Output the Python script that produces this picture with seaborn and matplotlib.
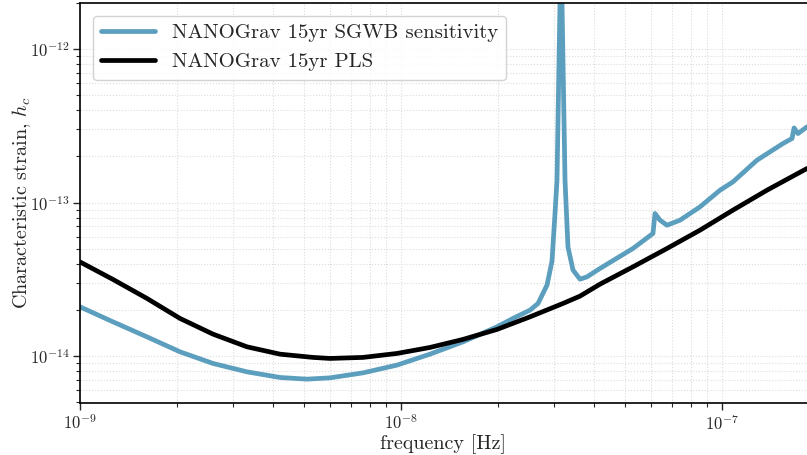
import numpy as np
import pandas as pd
import matplotlib
matplotlib.use("Agg")
import matplotlib.pyplot as plt
import seaborn as sns

# Data
pls_freq = [1.00e-9, 1.267e-9, 1.617e-9, 2.049e-9, 2.596e-9, 3.313e-9, 4.199e-9, 5.318e-9,
            6.009e-9, 7.613e-9, 9.716e-9, 1.231e-8, 1.560e-8, 1.991e-8, 2.523e-8, 3.196e-8,
            3.611e-8, 4.168e-8, 5.281e-8, 6.741e-8, 8.541e-8, 1.082e-7, 1.381e-7, 1.840e-7]
pls_hc = [4.11e-14, 3.16e-14, 2.376e-14, 1.761e-14, 1.391e-14, 1.150e-14, 1.030e-14, 9.81e-15,
          9.66e-15, 9.81e-15, 1.041e-14, 1.139e-14, 1.285e-14, 1.493e-14, 1.803e-14, 2.204e-14,
          2.460e-14, 2.944e-14, 3.818e-14, 5.03e-14, 6.62e-14, 8.94e-14, 1.206e-13, 1.670e-13]

sens_freq = [1.00e-9, 1.267e-9, 1.617e-9, 2.049e-9, 2.596e-9, 3.313e-9, 4.199e-9, 5.094e-9,
             6.009e-9, 7.613e-9, 9.716e-9, 1.231e-8, 1.560e-8, 1.991e-8, 2.233e-8, 2.523e-8,
             2.672e-8, 2.850e-8, 2.954e-8, 3.019e-8, 3.062e-8, 3.151e-8, 3.243e-8, 3.313e-8,
             3.435e-8, 3.611e-8, 3.797e-8, 4.168e-8, 5.281e-8, 6.095e-8, 6.183e-8, 6.41e-8,
             6.741e-8, 7.40e-8, 8.541e-8, 9.86e-8, 1.082e-7, 1.285e-7, 1.549e-7, 1.653e-7,
             1.677e-7, 1.725e-7, 1.840e-7]
sens_hc = [2.095e-14, 1.673e-14, 1.335e-14, 1.067e-14, 8.96e-15, 7.90e-15, 7.26e-15, 7.08e-15,
           7.22e-15, 7.78e-15, 8.74e-15, 1.030e-14, 1.239e-14, 1.552e-14, 1.761e-14, 1.994e-14,
           2.204e-14, 2.901e-14, 4.16e-14, 8.54e-14, 1.401e-13, 5.0e-12, 1.401e-13, 5.13e-14,
           3.634e-14, 3.174e-14, 3.285e-14, 3.726e-14, 5.03e-14, 6.30e-14, 8.50e-14, 7.69e-14,
           7.13e-14, 7.69e-14, 9.39e-14, 1.206e-13, 1.366e-13, 1.891e-13, 2.43e-13, 2.62e-13,
           3.07e-13, 2.82e-13, 3.12e-13]

labels = ["NANOGrav 15yr SGWB sensitivity", "NANOGrav 15yr PLS"]
colors = ["#5b9ebd", "#000000"]

df = pd.concat([
    pd.DataFrame({"f": sens_freq, "hc": sens_hc, "curve": labels[0]}),
    pd.DataFrame({"f": pls_freq, "hc": pls_hc, "curve": labels[1]}),
])

sns.set_style("ticks")
plt.rcParams["font.family"] = ["cmr10", "DejaVu Serif"]
plt.rcParams["mathtext.fontset"] = "cm"
plt.rcParams["axes.unicode_minus"] = False
plt.rcParams["axes.formatter.use_mathtext"] = True

fig = plt.figure(figsize=(8.07, 4.55), dpi=100)
ax = fig.add_axes([80 / 807, 52 / 455, 1 - 80 / 807, 400 / 455])

sns.lineplot(data=df, x="f", y="hc", hue="curve", palette=dict(zip(labels, colors)),
             hue_order=labels, sort=False, estimator=None, lw=3.4, ax=ax)

ax.set_xscale("log")
ax.set_yscale("log")
ax.set_xlim(1e-9, 1.84e-7)
ax.set_ylim(4.95e-15, 2.0e-12)

ax.grid(True, which="both", ls=":", lw=0.8, color="#dcdcdc")
ax.set_axisbelow(True)
for s in ["top", "left", "bottom"]:
    ax.spines[s].set_visible(True)
    ax.spines[s].set_color("black")
    ax.spines[s].set_linewidth(1.2)
ax.spines["right"].set_visible(False)

ax.tick_params(axis="both", which="major", labelsize=12, length=5, width=1, direction="out", pad=2.5)
ax.tick_params(axis="both", which="minor", length=3, width=0.8, direction="out")

ax.set_xlabel("frequency [Hz]", fontsize=14.5, labelpad=1)
ax.set_ylabel(r"Characteristic strain, $h_c$", fontsize=14.5, labelpad=-2)

leg = ax.legend(loc="upper left", fontsize=15, frameon=True, handlelength=2.6,
                borderaxespad=0.6, fancybox=True, framealpha=0.85)
leg.get_frame().set_edgecolor("#cccccc")
for line in leg.get_lines():
    line.set_linewidth(3.4)

fig.savefig("out.png", dpi=100)
